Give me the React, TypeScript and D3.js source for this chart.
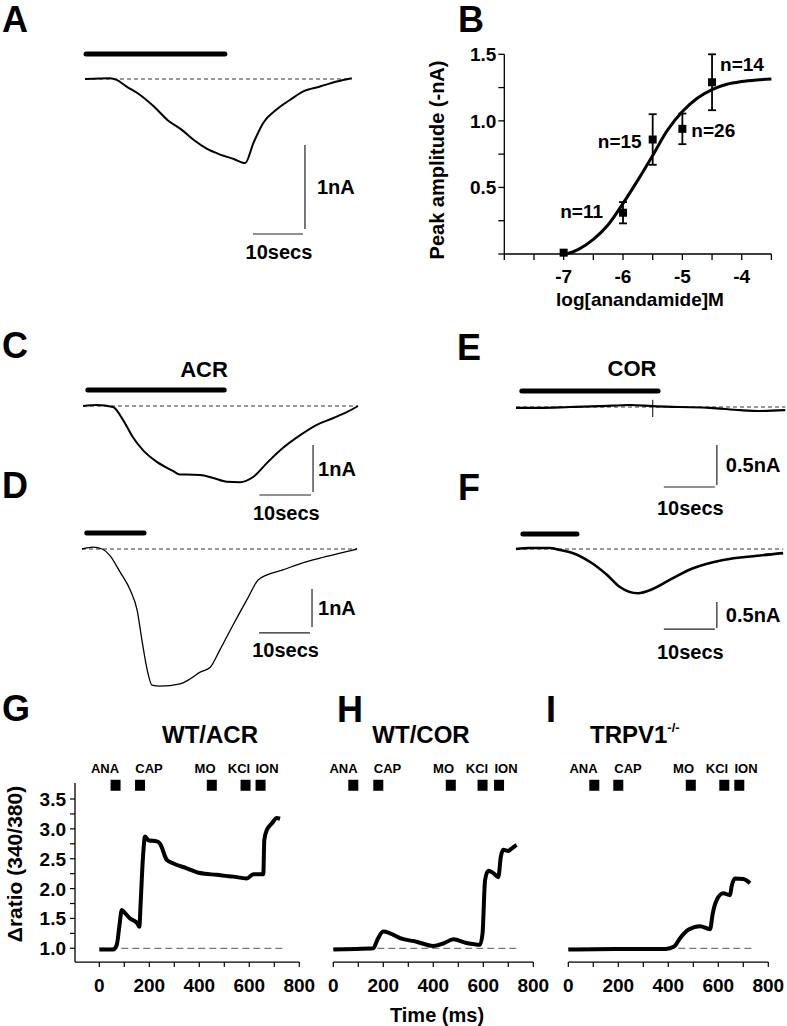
import React from 'react';
import * as d3 from 'd3';

type Pt = [number, number];

const FONT = "'Liberation Sans', Arial, Helvetica, sans-serif";

// ---------- whole-cell current traces (t in s, current in nA) ----------
const traceA: Pt[] = [
  [0, 0], [4.8, 0.01], [6.1, -0.01], [8.0, -0.09], [10.6, -0.19], [13.3, -0.33],
  [15.9, -0.49], [18.5, -0.6], [21.0, -0.73], [23.4, -0.83], [26.0, -0.9],
  [28.5, -0.95], [30.8, -1.0], [32.4, -0.76], [34.3, -0.52], [36.9, -0.36],
  [39.4, -0.25], [41.9, -0.15], [45.2, -0.09], [48.4, -0.03], [51.3, 0.01],
];
const traceC: Pt[] = [
  [0, 0], [2.6, 0.02], [5.6, -0.02], [7.5, -0.3], [9.3, -0.66], [11.2, -0.94],
  [13.8, -1.19], [16.8, -1.38], [18.1, -1.46], [19.4, -1.46], [21.9, -1.47],
  [24.3, -1.53], [26.9, -1.61], [29.3, -1.62], [31.8, -1.51], [34.4, -1.21],
  [37.4, -0.89], [40.6, -0.62], [43.7, -0.4], [46.7, -0.26], [49.3, -0.13], [51.4, 0],
];
const traceD: Pt[] = [
  [0, 0], [2.1, 0.05], [3.8, 0], [5.3, -0.18], [7.2, -0.61], [9.1, -1.08],
  [10.4, -1.61], [11.3, -2.39], [12.3, -3.18], [13.2, -3.58], [14.7, -3.61],
  [18.5, -3.55], [20.4, -3.42], [22.3, -3.24], [24.2, -3.11], [26.0, -2.66],
  [28.5, -2.0], [31.1, -1.34], [33.2, -0.82], [34.9, -0.68], [37.9, -0.55],
  [41.1, -0.39], [44.9, -0.24], [48.7, -0.11], [51.9, 0],
];
const traceE: Pt[] = [
  [0, -0.01], [4.5, -0.01], [10.2, 0], [15.8, 0.01], [21.5, 0.025], [25.8, 0.01],
  [30.9, 0], [36.6, -0.01], [42.3, -0.04], [46.0, -0.05], [50.8, -0.04],
];
const spikeE = { t: 25.8, top: 0.09, bottom: -0.125 };
const traceF: Pt[] = [
  [0, 0], [2.6, 0.02], [6.4, 0.02], [8.3, -0.02], [10.8, -0.08], [14.0, -0.25],
  [17.2, -0.5], [19.6, -0.73], [23.0, -0.85], [25.8, -0.77], [29.6, -0.56],
  [33.4, -0.37], [39.1, -0.21], [45.5, -0.13], [50.4, -0.08],
];

// drug application bars [start, end] in s
const barA: Pt = [0.2, 26.9];
const barC: Pt = [0.9, 26.4];
const barD: Pt = [0.9, 11.7];
const barE: Pt = [1.1, 26.8];
const barF: Pt = [1.3, 11.5];

// scale bars: vertical line time, bottom current, 10 s / amplitude
const scaleA = { t: 42.3, i: -1.786, dt: 10, di: 1, label: '1nA' };
const scaleC = { t: 43.0, i: -1.83, dt: 10, di: 1, label: '1nA' };
const scaleD = { t: 43.4, i: -2.05, dt: 10, di: 1, label: '1nA' };
const scaleE = { t: 37.9, i: -0.975, dt: 10, di: 0.5, label: '0.5nA' };
const scaleF = { t: 37.9, i: -1.52, dt: 10, di: 0.5, label: '0.5nA' };

// ---------- B: concentration-response ----------
const doseX = [-7, -6, -5.5, -5, -4.5];
const doseY = [0.01, 0.31, 0.86, 0.94, 1.29];
const doseErr = [0, 0.08, 0.19, 0.115, 0.21];
const doseN = ['', 'n=11', 'n=15', 'n=26', 'n=14'];
const fitB: Pt[] = [
  [-6.95, 0], [-6.75, 0.035], [-6.5, 0.11], [-6.25, 0.22], [-6.0, 0.38],
  [-5.75, 0.555], [-5.5, 0.74], [-5.25, 0.93], [-5.0, 1.07], [-4.75, 1.17],
  [-4.5, 1.235], [-4.25, 1.275], [-4.0, 1.295], [-3.75, 1.307], [-3.5, 1.315],
];
const bYTicks = [0, 0.25, 0.5, 0.75, 1.0, 1.25, 1.5];
const bYLabels = ['1.5', '1.0', '0.5'];
const bXTicks = [-8, -7.5, -7, -6.5, -6, -5.5, -5, -4.5, -4, -3.5];
const bXLabels = [-7, -6, -5, -4];

// ---------- G-I: calcium imaging (time in ms, ratio) ----------
const traceG: Pt[] = [
  [0, 0.98], [56, 0.98], [70, 1.06], [80, 1.36], [90, 1.64], [103, 1.59], [123, 1.5],
  [150, 1.43], [160, 1.36], [166, 1.81], [174, 2.48], [183, 2.87], [196, 2.81],
  [230, 2.79], [243, 2.75], [270, 2.48], [296, 2.42], [350, 2.34], [403, 2.26],
  [470, 2.23], [536, 2.2], [590, 2.17], [616, 2.24], [656, 2.24], [660, 2.81],
  [670, 2.98], [690, 3.09], [710, 3.18], [723, 3.17],
];
const traceH: Pt[] = [
  [0, 0.98], [93, 0.99], [160, 1.0], [176, 1.14], [200, 1.28], [227, 1.25], [267, 1.17],
  [333, 1.11], [400, 1.04], [440, 1.08], [480, 1.15], [533, 1.09], [587, 1.06],
  [597, 1.25], [607, 2.14], [620, 2.3], [640, 2.26], [660, 2.19], [670, 2.53],
  [680, 2.65], [700, 2.63], [713, 2.67], [733, 2.73],
];
const traceI: Pt[] = [
  [0, 0.98], [190, 0.99], [390, 0.99], [423, 1.03], [447, 1.17], [480, 1.31],
  [527, 1.37], [567, 1.32], [578, 1.59], [594, 1.81], [620, 1.92], [647, 1.89],
  [653, 2.03], [667, 2.17], [700, 2.16], [727, 2.09],
];
const drugs = ['ANA', 'CAP', 'MO', 'KCl', 'ION'];
const drugAtG = [65, 163, 450, 585, 645];
const drugAtH = [80, 180, 470, 597, 663];
const drugAtI = [104, 200, 490, 624, 684];
const drugLabelAtG = [23, 199, 423, 559, 671];
const drugLabelAtH = [41, 217, 441, 575, 691];
const drugLabelAtI = [61, 239, 461, 595, 711];
const caYTicks = [1.0, 1.25, 1.5, 1.75, 2.0, 2.25, 2.5, 2.75, 3.0, 3.25, 3.5];
const caYLabels = ['1.0', '1.5', '2.0', '2.5', '3.0', '3.5'];
const caXTicks = [0, 100, 200, 300, 400, 500, 600, 700, 800];
const caXLabels = ['0', '200', '400', '600', '800'];

// ---------- layout ----------
interface TraceLayout { x0: number; y0: number; kx: number; ky: number; barGap: number; labelDx: number; timeDy: number; sbGap: number; width: number }
const layA: TraceLayout = { x0: 85, y0: 79, kx: 5.2, ky: 84, barGap: 25, labelDx: 12, timeDy: 25, sbGap: 5, width: 2 };
const layC: TraceLayout = { x0: 83, y0: 406, kx: 5.35, ky: 47, barGap: 16, labelDx: 5, timeDy: 25, sbGap: 3, width: 2 };
const layD: TraceLayout = { x0: 82, y0: 549, kx: 5.3, ky: 38, barGap: 16, labelDx: 6, timeDy: 24, sbGap: 6, width: 1.3 };
const layE: TraceLayout = { x0: 516, y0: 407, kx: 5.3, ky: 80, barGap: 16, labelDx: 9, timeDy: 28, sbGap: 2, width: 2.2 };
const layF: TraceLayout = { x0: 516, y0: 549, kx: 5.3, ky: 52, barGap: 15, labelDx: 9, timeDy: 30, sbGap: 1, width: 2.6 };

const TracePanel: React.FC<{
  lay: TraceLayout; trace: Pt[]; bar: Pt;
  sb: { t: number; i: number; dt: number; di: number; label: string };
  children?: (x: d3.ScaleLinear<number, number>, y: d3.ScaleLinear<number, number>) => React.ReactNode;
}> = ({ lay, trace, bar, sb, children }) => {
  const x = d3.scaleLinear().domain([0, 1]).range([lay.x0, lay.x0 + lay.kx]);
  const y = d3.scaleLinear().domain([0, -1]).range([lay.y0, lay.y0 + lay.ky]);
  const line = d3.line<Pt>().x(d => x(d[0])).y(d => y(d[1])).curve(d3.curveMonotoneX);
  const tEnd = trace[trace.length - 1][0];
  const sx = x(sb.t);
  const sy0 = y(sb.i);
  const sy1 = y(sb.i + sb.di);
  const hy = sy0 + lay.sbGap;
  return (
    <g>
      <line x1={x(bar[0])} x2={x(bar[1])} y1={y(0) - lay.barGap} y2={y(0) - lay.barGap}
        stroke="#000" strokeWidth={5} strokeLinecap="round" />
      <line x1={x(0)} x2={x(tEnd)} y1={y(0)} y2={y(0)} stroke="#333" strokeWidth={1} strokeDasharray="4,3" />
      <path d={line(trace) || ''} fill="none" stroke="#000" strokeWidth={lay.width} strokeLinejoin="round" />
      {children && children(x, y)}
      <line x1={sx} x2={sx} y1={sy0} y2={sy1} stroke="#222" strokeWidth={1.2} />
      <line x1={x(sb.t - sb.dt)} x2={sx - 2} y1={hy} y2={hy} stroke="#222" strokeWidth={1.2} />
      <text x={sx + lay.labelDx} y={(sy0 + sy1) / 2 + 7} fontSize={20} fontWeight="bold" fontFamily={FONT}>{sb.label}</text>
      <text x={(x(sb.t - sb.dt) + sx) / 2} y={hy + lay.timeDy} fontSize={20} fontWeight="bold" fontFamily={FONT} textAnchor="middle">10secs</text>
    </g>
  );
};

const DosePanel: React.FC = () => {
  const x = d3.scaleLinear().domain([-8, -3.5]).range([504.3, 771.4]);
  const y = d3.scaleLinear().domain([0, 1.5]).range([254, 54.3]);
  const line = d3.line<Pt>().x(d => x(d[0])).y(d => y(d[1])).curve(d3.curveCatmullRom);
  const labelPos = [
    { dx: 0, dy: 0, a: 'start' }, { dx: -20, dy: 5, a: 'end' }, { dx: -11, dy: 8, a: 'end' },
    { dx: 9, dy: 8, a: 'start' }, { dx: 8, dy: -11, a: 'start' },
  ];
  return (
    <g fontFamily={FONT} fontWeight="bold">
      <line x1={x(-8)} x2={x(-8)} y1={y(0)} y2={y(1.5)} stroke="#000" strokeWidth={1.3} />
      <line x1={x(-8)} x2={x(-3.5)} y1={y(0)} y2={y(0)} stroke="#000" strokeWidth={1.3} />
      {bYTicks.map(t => <line key={t} x1={x(-8) - 6} x2={x(-8)} y1={y(t)} y2={y(t)} stroke="#000" strokeWidth={1.3} />)}
      {bXTicks.map(t => <line key={t} x1={x(t)} x2={x(t)} y1={y(0)} y2={y(0) + 6} stroke="#000" strokeWidth={1.3} />)}
      {bYLabels.map(l => <text key={l} x={x(-8) - 8} y={y(+l) + 7} fontSize={19} textAnchor="end">{l}</text>)}
      {bXLabels.map(l => <text key={l} x={x(l)} y={y(0) + 29} fontSize={19} textAnchor="middle">{l}</text>)}
      <text x={640} y={306} fontSize={19} textAnchor="middle">log[anandamide]M</text>
      <text transform="translate(444,160) rotate(-90)" fontSize={20} textAnchor="middle">Peak amplitude (-nA)</text>
      <path d={line(fitB) || ''} fill="none" stroke="#000" strokeWidth={3} />
      {doseX.map((dx, k) => (
        <g key={dx}>
          {doseErr[k] > 0 && (
            <g stroke="#000" strokeWidth={1.8}>
              <line x1={x(dx)} x2={x(dx)} y1={y(doseY[k] - doseErr[k])} y2={y(doseY[k] + doseErr[k])} />
              <line x1={x(dx) - 4} x2={x(dx) + 4} y1={y(doseY[k] - doseErr[k])} y2={y(doseY[k] - doseErr[k])} />
              <line x1={x(dx) - 4} x2={x(dx) + 4} y1={y(doseY[k] + doseErr[k])} y2={y(doseY[k] + doseErr[k])} />
            </g>
          )}
          <rect x={x(dx) - 4} y={y(doseY[k]) - 4} width={8} height={8} fill="#000" />
          {doseN[k] && (
            <text x={x(dx) + labelPos[k].dx} y={y(doseY[k]) + labelPos[k].dy} fontSize={19}
              textAnchor={labelPos[k].a as any}>{doseN[k]}</text>
          )}
        </g>
      ))}
    </g>
  );
};

const CaPanel: React.FC<{
  x0: number; trace: Pt[]; drugAt: number[]; labelAt: number[]; showY: boolean;
}> = ({ x0, trace, drugAt, labelAt, showY }) => {
  const x = d3.scaleLinear().domain([0, 800]).range([x0, x0 + 200]);
  const y = d3.scaleLinear().domain([1, 3.5]).range([948.3, 799]);
  const line = d3.line<Pt>().x(d => x(d[0])).y(d => y(d[1])).curve(d3.curveMonotoneX);
  const axisY = y(0.77);
  return (
    <g fontFamily={FONT} fontWeight="bold">
      {showY && (
        <g>
          <line x1={75} x2={75} y1={axisY} y2={y(3.77)} stroke="#000" strokeWidth={1.3} />
          {caYTicks.map(t => <line key={t} x1={70} x2={75} y1={y(t)} y2={y(t)} stroke="#000" strokeWidth={1.2} />)}
          {caYLabels.map(l => <text key={l} x={66} y={y(+l) + 7} fontSize={19} textAnchor="end">{l}</text>)}
        </g>
      )}
      <line x1={showY ? 75 : x(0)} x2={x(800)} y1={axisY} y2={axisY} stroke="#000" strokeWidth={1.3} />
      {caXTicks.map(t => <line key={t} x1={x(t)} x2={x(t)} y1={axisY} y2={axisY + 5} stroke="#000" strokeWidth={1.2} />)}
      {caXLabels.map(l => <text key={l} x={x(+l)} y={axisY + 30} fontSize={19} textAnchor="middle">{l}</text>)}
      <line x1={x(0)} x2={x(735)} y1={y(1)} y2={y(1)} stroke="#555" strokeWidth={1} strokeDasharray="7,4" />
      <path d={line(trace) || ''} fill="none" stroke="#000" strokeWidth={4} strokeLinejoin="round" />
      {drugAt.map((t, k) => (
        <rect key={drugs[k]} x={x(t) - 5} y={y(3.73) - 5.5} width={10} height={11} fill="#000" />
      ))}
      {labelAt.map((t, k) => (
        <text key={drugs[k]} x={x(t)} y={773} fontSize={13} textAnchor="middle">{drugs[k]}</text>
      ))}
    </g>
  );
};

const letter = (s: string, x: number, y: number) => (
  <text key={s} x={x} y={y} fontSize={36} fontWeight="bold" fontFamily={FONT}>{s}</text>
);

export default function App() {
  return (
    <svg width={787} height={1026} style={{ position: 'absolute', left: 0, top: 0, background: '#fff' }}>
      {letter('A', 2, 32)}
      {letter('B', 458, 32)}
      {letter('C', 2, 358)}
      {letter('D', 2, 498)}
      {letter('E', 457, 360)}
      {letter('F', 458, 500)}
      {letter('G', 2, 721)}
      {letter('H', 337, 722)}
      {letter('I', 546, 722)}

      <TracePanel lay={layA} trace={traceA} bar={barA} sb={scaleA} />
      <DosePanel />

      <text x={204} y={377} fontSize={22} fontWeight="bold" fontFamily={FONT} textAnchor="middle">ACR</text>
      <TracePanel lay={layC} trace={traceC} bar={barC} sb={scaleC} />
      <TracePanel lay={layD} trace={traceD} bar={barD} sb={scaleD} />

      <text x={632} y={376} fontSize={22} fontWeight="bold" fontFamily={FONT} textAnchor="middle">COR</text>
      <TracePanel lay={layE} trace={traceE} bar={barE} sb={scaleE}>
        {(x, y) => <line x1={x(spikeE.t)} x2={x(spikeE.t)} y1={y(spikeE.top)} y2={y(spikeE.bottom)} stroke="#000" strokeWidth={1} />}
      </TracePanel>
      <TracePanel lay={layF} trace={traceF} bar={barF} sb={scaleF} />

      <g fontFamily={FONT} fontWeight="bold" fontSize={24}>
        <text x={210} y={743} textAnchor="middle">WT/ACR</text>
        <text x={421} y={743} textAnchor="middle">WT/COR</text>
        <text x={590} y={743}>TRPV1<tspan fontSize={13} dy={-11}>-/-</tspan></text>
      </g>
      <CaPanel x0={99.3} trace={traceG} drugAt={drugAtG} labelAt={drugLabelAtG} showY />
      <CaPanel x0={333.3} trace={traceH} drugAt={drugAtH} labelAt={drugLabelAtH} showY={false} />
      <CaPanel x0={568.3} trace={traceI} drugAt={drugAtI} labelAt={drugLabelAtI} showY={false} />
      <text transform="translate(22,864) rotate(-90)" fontSize={21} fontWeight="bold" fontFamily={FONT} textAnchor="middle">Δratio (340/380)</text>
      <text x={437} y={1022} fontSize={20} fontWeight="bold" fontFamily={FONT} textAnchor="middle">Time (ms)</text>
    </svg>
  );
}
